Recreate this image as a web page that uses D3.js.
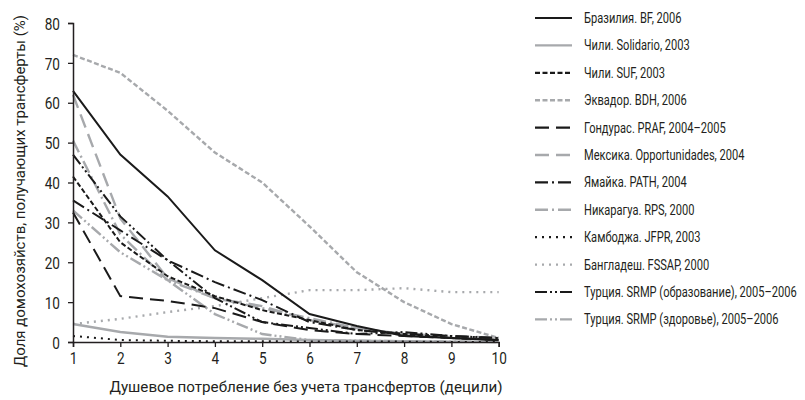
<!DOCTYPE html>
<html>
<head>
<meta charset="utf-8">
<script src="https://d3js.org/d3.v7.min.js"></script>
<style>
  body { margin: 0; background: #fff; }
  text { font-family: Roboto, "Liberation Sans", sans-serif; fill: #231f20; }
</style>
</head>
<body>
<svg id="chart" width="805" height="400"></svg>
<script>
// deciles
var deciles = [1, 2, 3, 4, 5, 6, 7, 8, 9, 10];
var yTicks = [0, 10, 20, 30, 40, 50, 60, 70, 80];

// share of households receiving transfers, % (by decile)
var brazilBF      = [63, 47, 36.5, 23, 15.5, 7, 4, 1.5, 1, 0.5];
var chileSol      = [4.5, 2.5, 1.3, 1, 0.8, 0.5, 0.3, 0.2, 0.1, 0.1];
var chileSUF      = [41.5, 25, 16.5, 11.5, 8, 5.5, 3, 2, 1, 0.5];
var ecuadorBDH    = [72, 67.5, 58, 47.5, 40, 29, 17.5, 10, 4.5, 1];
var hondurasPRAF  = [32.5, 11.5, 10.3, 8.5, 5, 3, 2, 1.5, 1, 0.5];
var mexicoOpp     = [62, 31, 16, 11, 9, 5.5, 3.5, 2, 1.5, 1];
var jamaicaPATH   = [35.5, 28, 20.5, 15, 10.5, 5, 3, 2, 1.5, 1];
var nicaraguaRPS  = [50.5, 27, 15.5, 11, 8.5, 6, 3.5, 2, 1, 0.5];
var cambodiaJFPR  = [1.5, 0.5, 0.3, 0.2, 0.2, 0.1, 0.1, 0.1, 0, 0];
var bangladesh    = [4.5, 5.8, 7.5, 9, 11, 13, 13, 13.5, 12.5, 12.5];
var turkeyEdu     = [47, 31.5, 20.5, 11, 5, 3.5, 2, 2.5, 1.5, 1];
var turkeyHealth  = [33, 22.5, 15.5, 7, 2, 0.5, 0.3, 0.2, 0.1, 0];

var black = "#1a1a1a", grey = "#a7a9ac";

var series = [
  { name: "Бразилия. BF, 2006", values: brazilBF, color: black, dash: null },
  { name: "Чили. Solidario, 2003", values: chileSol, color: grey, dash: null },
  { name: "Чили. SUF, 2003", values: chileSUF, color: black, dash: "5,2.5" },
  { name: "Эквадор. BDH, 2006", values: ecuadorBDH, color: grey, dash: "5,2.5" },
  { name: "Гондурас. PRAF, 2004–2005", values: hondurasPRAF, color: black, dash: "14,7" },
  { name: "Мексика. Opportunidades, 2004", values: mexicoOpp, color: grey, dash: "14,7" },
  { name: "Ямайка. PATH, 2004", values: jamaicaPATH, color: black, dash: "13,4,2,4" },
  { name: "Никарагуа. RPS, 2000", values: nicaraguaRPS, color: grey, dash: "13,4,2,4" },
  { name: "Камбоджа. JFPR, 2003", values: cambodiaJFPR, color: black, dash: "2,5" },
  { name: "Бангладеш. FSSAP, 2000", values: bangladesh, color: grey, dash: "2,5" },
  { name: "Турция. SRMP (образование), 2005–2006", values: turkeyEdu, color: black, dash: "12,3,2,3,2,3" },
  { name: "Турция. SRMP (здоровье), 2005–2006", values: turkeyHealth, color: grey, dash: "12,3,2,3,2,3" }
];

var svg = d3.select("#chart");

var x = d3.scaleLinear().domain([1, 10]).range([73, 498.7]);
var y = d3.scaleLinear().domain([0, 80]).range([342, 23]);

// narrow look: squeeze a text horizontally around its anchor
function squeeze(sel, sx) {
  sel.each(function() {
    var t = d3.select(this);
    var tx = +t.attr("x") || 0;
    t.attr("x", tx / sx).attr("transform", "scale(" + sx + ",1)");
  });
}

// lines (grey first so black sits on top)
var line = d3.line()
  .x(function(d, i) { return x(deciles[i]); })
  .y(function(d) { return y(d); });

var order = series.filter(function(s) { return s.color === grey; })
  .concat(series.filter(function(s) { return s.color === black; }));

svg.append("g")
  .selectAll("path")
  .data(order)
  .enter().append("path")
  .attr("d", function(s) { return line(s.values); })
  .attr("fill", "none")
  .attr("stroke", function(s) { return s.color; })
  .attr("stroke-width", function(s) { return s.color === grey ? 2.4 : 2; })
  .attr("stroke-dasharray", function(s) { return s.dash; });

// axes
var xAxis = svg.append("g")
  .attr("transform", "translate(0," + y(0) + ")")
  .call(d3.axisBottom(x).tickValues(deciles).tickSize(5).tickPadding(5).tickFormat(d3.format("d")));

var yAxis = svg.append("g")
  .attr("transform", "translate(" + x(1) + ",0)")
  .call(d3.axisLeft(y).tickValues(yTicks).tickSize(5).tickPadding(8));

[xAxis, yAxis].forEach(function(a) {
  a.select(".domain").attr("stroke", "#231f20").attr("stroke-width", 1.5);
  a.selectAll(".tick line").attr("stroke", "#231f20").attr("stroke-width", 1.3);
  a.selectAll(".tick text").attr("font-size", 17)
    .style("font-family", "Roboto, 'Liberation Sans', sans-serif")
    .attr("fill", "#231f20");
});
yAxis.selectAll(".tick text").attr("dy", "0.36em");
squeeze(xAxis.selectAll(".tick text"), 0.8);
squeeze(yAxis.selectAll(".tick text"), 0.8);

// axis titles
svg.append("text")
  .attr("x", 306)
  .attr("y", 392)
  .attr("text-anchor", "middle")
  .attr("font-size", 15)
  .attr("textLength", 393)
  .attr("lengthAdjust", "spacingAndGlyphs")
  .text("Душевое потребление без учета трансфертов (децили)");

svg.append("text")
  .attr("transform", "translate(25,191) rotate(-90)")
  .attr("text-anchor", "middle")
  .attr("font-size", 15)
  .attr("textLength", 352)
  .attr("lengthAdjust", "spacingAndGlyphs")
  .text("Доля домохозяйств, получающих трансферты (%)");

// legend
var legend = svg.append("g")
  .selectAll("g")
  .data(series)
  .enter().append("g")
  .attr("transform", function(s, i) { return "translate(535," + (18 + i * 27.4) + ")"; });

legend.append("line")
  .attr("x1", 0).attr("x2", 37)
  .attr("stroke", function(s) { return s.color; })
  .attr("stroke-width", function(s) { return s.color === grey ? 2.4 : 2.2; })
  .attr("stroke-dasharray", function(s) { return s.dash; });

var legendText = legend.append("text")
  .attr("x", 49)
  .attr("dy", "0.35em")
  .attr("font-size", 14)
  .text(function(s) { return s.name; });

// fit the longest entry to the width it has in the original
var longest = d3.max(legendText.nodes(), function(n) { return n.getComputedTextLength(); });
squeeze(legendText, 213 / longest);
</script>
</body>
</html>
